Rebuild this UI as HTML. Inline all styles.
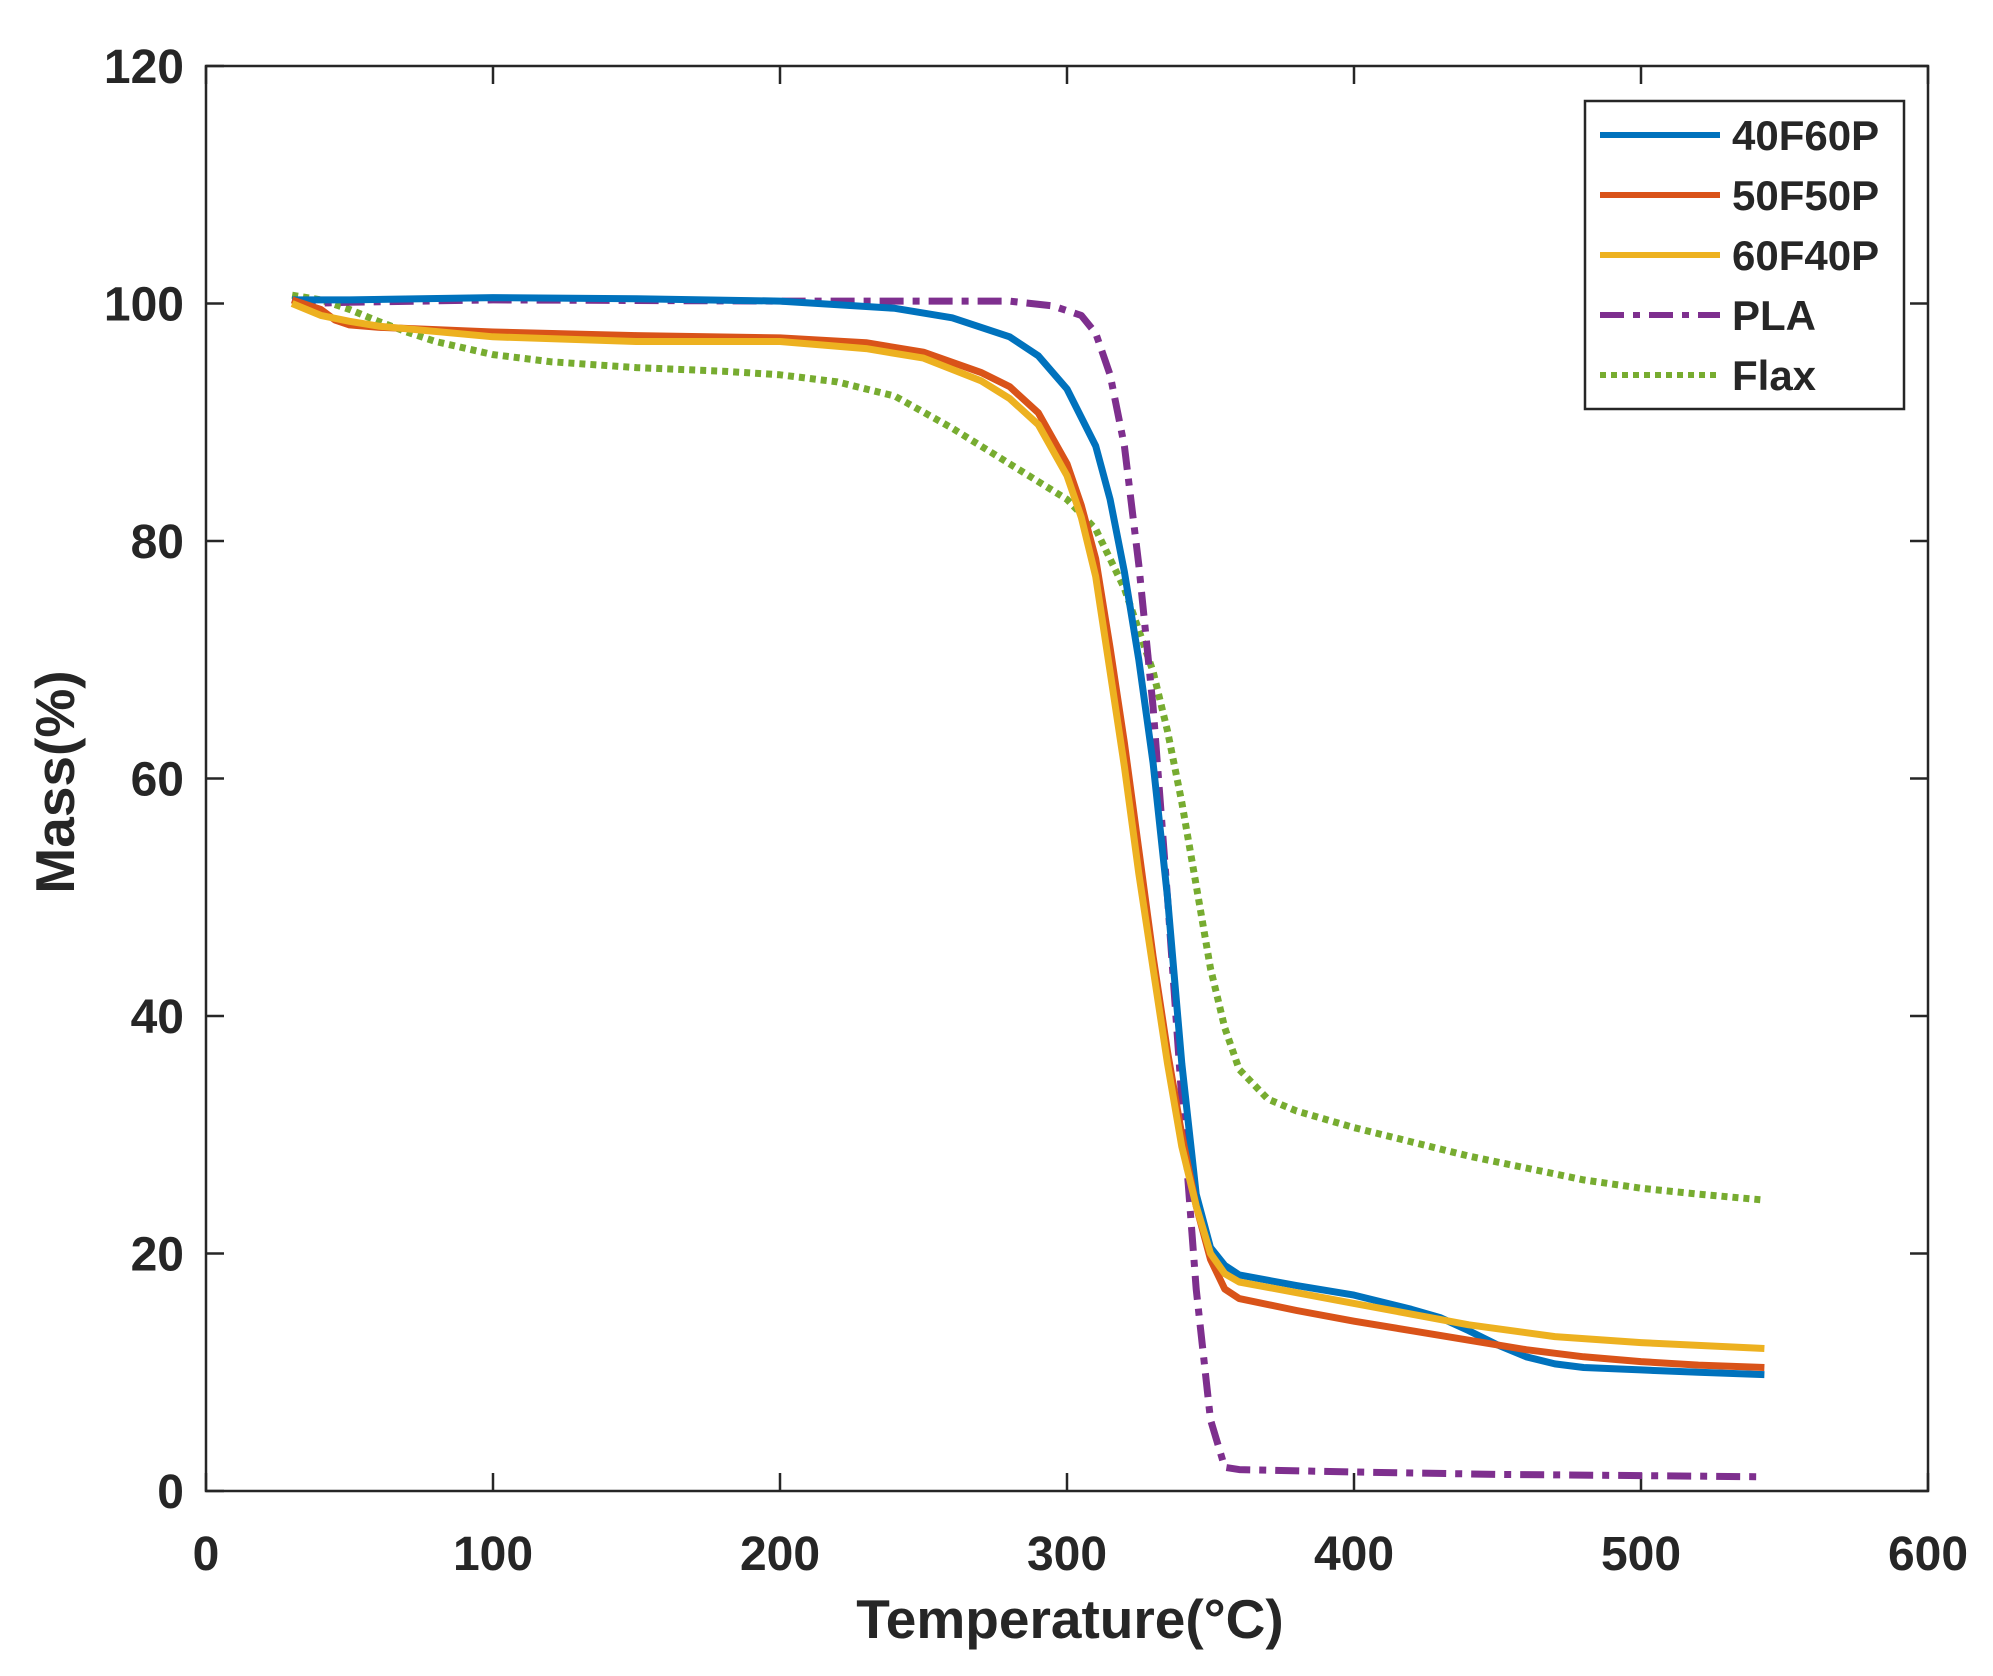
<!DOCTYPE html>
<html><head><meta charset="utf-8"><style>
html,body{margin:0;padding:0;background:#fff;}
svg{display:block;font-family:"Liberation Sans",Arial,sans-serif;font-weight:bold;}
</style></head><body>
<svg id="chart" width="1993" height="1676" viewBox="0 0 1993 1676" xmlns="http://www.w3.org/2000/svg">
<rect x="0" y="0" width="1993" height="1676" fill="#fff"/>
<g id="grid"></g>
<g id="series"></g>
<text x="1070" y="1638" text-anchor="middle" font-size="55" fill="#262626">Temperature(°C)</text>
<text transform="translate(74,782) rotate(-90)" text-anchor="middle" font-size="55" fill="#262626">Mass(%)</text>
<g id="legend"></g>
</svg>
<script>
const xTicks = [0,100,200,300,400,500,600];
const yTicks = [0,20,40,60,80,100,120];
const seriesNames = ["40F60P","50F50P","60F40P","PLA","Flax"];
const tBlue = [30,50,100,150,200,240,260,280,290,300,310,315,320,325,330,335,340,345,350,355,360,380,400,420,430,440,450,460,470,480,500,520,543];
const mBlue = [100.3,100.3,100.5,100.4,100.2,99.6,98.8,97.2,95.6,92.8,88,83.5,77.4,70,61.3,50,36,25,20.5,19,18.2,17.3,16.5,15.3,14.6,13.5,12.3,11.3,10.7,10.4,10.2,10,9.8];
const tOrange = [30,40,45,50,60,100,150,200,230,250,270,280,290,300,305,310,315,320,325,330,335,340,345,350,355,360,380,400,420,440,460,480,500,520,543];
const mOrange = [100.3,99.5,98.6,98.2,98,97.6,97.3,97.1,96.7,95.9,94.2,93,90.8,86.5,83,78.5,71,63,54,45,37,30,24,19.5,17,16.2,15.2,14.3,13.5,12.7,11.9,11.3,10.9,10.6,10.4];
const tYellow = [30,40,50,60,100,150,200,230,250,270,280,290,300,305,310,315,320,325,330,335,340,345,350,355,360,400,440,470,500,543];
const mYellow = [100,99,98.5,98.1,97.2,96.8,96.8,96.2,95.4,93.5,92,89.8,85.5,82,77,69,61,52,44,36,29,24,20,18.3,17.6,15.8,14,13,12.5,12];
const tPLA = [30,35,50,100,200,280,295,305,310,315,320,325,330,335,340,345,350,355,360,400,450,500,543];
const mPLA = [100.3,100,100.1,100.3,100.2,100.2,99.8,99,97.5,94,88,78,66,50,33,17,6,2,1.8,1.6,1.4,1.3,1.2];
const tFlax = [30,40,50,60,70,80,100,120,150,180,200,220,240,260,280,300,310,320,330,335,340,345,350,355,360,370,380,400,420,440,460,480,500,520,543];
const mFlax = [100.7,100.3,99.5,98.5,97.6,96.8,95.7,95.1,94.6,94.3,94,93.4,92.2,89.5,86.5,83.5,81,76,69,64,58,51,44,39,35.5,33,32,30.6,29.4,28.2,27.2,26.2,25.5,25,24.5];

const X0=206, X1=1928, Y0=1491, Y1=66;
const sx = v => X0 + (v-0)/600*(X1-X0);
const sy = v => Y0 - (v-0)/120*(Y0-Y1);
const NS="http://www.w3.org/2000/svg";
function mk(tag, attrs, parent){const e=document.createElementNS(NS,tag);for(const k in attrs)e.setAttribute(k,attrs[k]);parent.appendChild(e);return e;}

const ax=document.getElementById('grid');
const box=mk('rect',{x:X0,y:Y1,width:X1-X0,height:Y0-Y1,fill:'none',stroke:'#262626','stroke-width':2.5},ax);


xTicks.forEach(v=>{
  const x=sx(v);
  const t1=mk('line',{x1:x,x2:x,y1:Y0,y2:Y0-18,stroke:'#262626','stroke-width':2.5},ax);
  
  
  const t2=mk('line',{x1:x,x2:x,y1:Y1,y2:Y1+18,stroke:'#262626','stroke-width':2.5},ax);
  
  
  const lb=mk('text',{x:x,y:1570,'text-anchor':'middle','font-size':48,fill:'#262626'},ax);
  lb.textContent=v;
  
  
});
yTicks.forEach(v=>{
  const y=sy(v);
  const t1=mk('line',{x1:X0,x2:X0+18,y1:y,y2:y,stroke:'#262626','stroke-width':2.5},ax);
  
  
  const t2=mk('line',{x1:X1,x2:X1-18,y1:y,y2:y,stroke:'#262626','stroke-width':2.5},ax);
  
  
  const lb=mk('text',{x:184,y:y+17,'text-anchor':'end','font-size':48,fill:'#262626'},ax);
  lb.textContent=v;
  
  
});

const styles=[
 {c:'#0072BD',d:'',t:tBlue,m:mBlue},
 {c:'#D95319',d:'',t:tOrange,m:mOrange},
 {c:'#EDB120',d:'',t:tYellow,m:mYellow},
 {c:'#7E2F8E',d:'24,9,7,9',t:tPLA,m:mPLA},
 {c:'#77AC30',d:'6,5',t:tFlax,m:mFlax}
];
const sg=document.getElementById('series');
const drawOrder=[4,3,0,1,2];
drawOrder.forEach(i=>{
  const s=styles[i];
  const d=s.t.map((t,k)=>(k?'L':'M')+sx(t).toFixed(1)+','+sy(s.m[k]).toFixed(1)).join(' ');
  const p=mk('path',{d:d,fill:'none',stroke:s.c,'stroke-width':7,'stroke-linejoin':'round'},sg);
  if(s.d)p.setAttribute('stroke-dasharray',s.d);
  
  
});

const lg=document.getElementById('legend');
const lbox=mk('rect',{x:1585,y:101,width:319,height:308,fill:'#fff',stroke:'#262626','stroke-width':2.5},lg);


const ly=[135,195,255,315,375];
seriesNames.forEach((n,i)=>{
  const s=styles[i];
  const ln=mk('line',{x1:1600,x2:1720,y1:ly[i],y2:ly[i],stroke:s.c,'stroke-width':6},lg);
  if(s.d)ln.setAttribute('stroke-dasharray',s.d);
  
  
  const tx=mk('text',{x:1732,y:ly[i]+15,'font-size':42,fill:'#262626'},lg);
  tx.textContent=n;
  
  
});
</script>
</body></html>
